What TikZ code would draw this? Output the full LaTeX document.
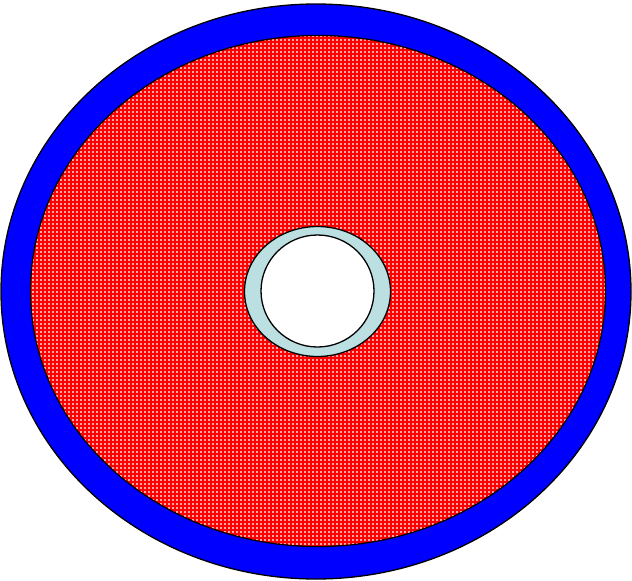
\documentclass[tikz,border=0pt]{standalone}
\usetikzlibrary{patterns}
\definecolor{pale}{HTML}{BCE0E2}
\pgfdeclarepatternformonly{bigdots}{\pgfqpoint{-1pt}{-1pt}}{\pgfqpoint{3pt}{3pt}}{\pgfqpoint{4pt}{4pt}}{%
  \pgfpathrectangle{\pgfqpoint{0pt}{0pt}}{\pgfqpoint{1.6pt}{1.6pt}}\pgfusepath{fill}}
\begin{document}
\begin{tikzpicture}[x=1pt,y=-1pt,
  ring/.style={draw=black,line width=1.3pt}]
\useasboundingbox (0,0) rectangle (632,581);
\path[ring,fill=blue] (316,291.5) ellipse [x radius=315, y radius=287.5];
\path[ring,fill=red] (318,291) ellipse [x radius=287.5, y radius=255.5];
\fill[pattern=bigdots,pattern color=white!65!red] (318,291) ellipse [x radius=286.8, y radius=254.8];
\path[ring,fill=pale] (317.5,291.5) ellipse [x radius=73, y radius=65];
\path[ring,fill=white] (317.5,291) ellipse [x radius=56.5, y radius=56];
\end{tikzpicture}
\end{document}
